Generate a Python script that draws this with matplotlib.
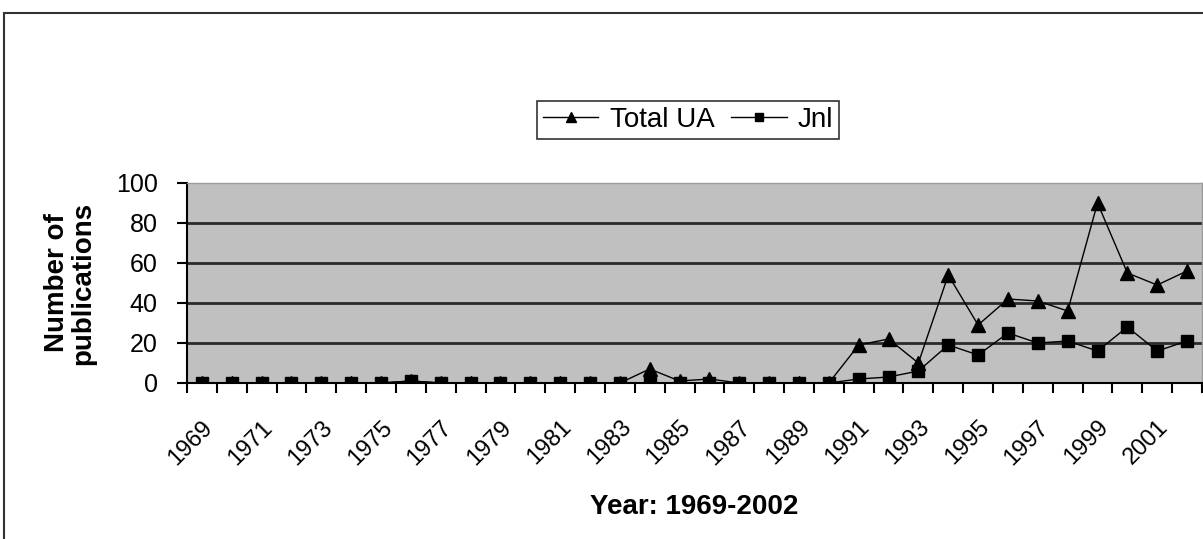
import numpy as np
import matplotlib
matplotlib.use("Agg")
import matplotlib.pyplot as plt
import matplotlib.transforms as mtransforms
from matplotlib.patches import Rectangle

plt.rcParams['font.family'] = ['Liberation Sans', 'DejaVu Sans']

# data
years = list(range(1969, 2003))
total_ua = [0, 0, 0, 0, 0, 0, 0, 1, 0, 0, 0, 0, 0, 0, 0, 7, 1, 2, 0, 0, 0, 0,
            19, 22, 10, 54, 29, 42, 41, 36, 90, 55, 49, 56]
jnl = [0, 0, 0, 0, 0, 0, 0, 1, 0, 0, 0, 0, 0, 0, 0, 0, 0, 0, 0, 0, 0, 0,
       2, 3, 6, 19, 14, 25, 20, 21, 16, 28, 16, 21]
tick_years = [str(y) for y in years[::2]]

W, H = 1203, 539
fig = plt.figure(figsize=(W / 100, H / 100), dpi=100)

# outer chart frame (runs off the right / bottom edge)
fig.patches.append(Rectangle((4 / W, -0.1), 1.2, 1.1 - 13 / H, transform=fig.transFigure,
                             fill=False, edgecolor='#333333', linewidth=1.5))

ax = fig.add_axes([187 / W, (H - 383) / H, (1202 - 187) / W, 200 / H])
ax.set_facecolor('#c0c0c0')

x = np.arange(len(years)) + 0.5
ax.plot(x, total_ua, color='black', lw=1, marker='^', ms=10, label='Total UA', zorder=3)
ax.plot(x, jnl, color='black', lw=1, marker='s', ms=9, label='Jnl', zorder=3)

ax.set_xlim(0, len(years))
ax.set_ylim(0, 100)
ax.set_yticks([0, 20, 40, 60, 80, 100])
for v in [20, 40, 60, 80]:
    ax.axhline(v, color='#2a2a2a', lw=2, zorder=1)

ax.set_xticks(x[::2])
ax.set_xticklabels(tick_years, rotation=45, ha='right', va='top', rotation_mode='anchor', fontsize=17)
shift = mtransforms.ScaledTranslation(-17 / 100, 0, fig.dpi_scale_trans)
for lab in ax.get_xticklabels():
    lab.set_transform(lab.get_transform() + shift)
ax.set_xticks(np.arange(len(years) + 1), minor=True)
ax.tick_params(axis='x', which='major', length=0, pad=24)
ax.tick_params(axis='x', which='minor', length=7, width=1.5, direction='out')
ax.tick_params(axis='y', length=7, width=1.5, labelsize=18, pad=14)

for s in ['left', 'bottom']:
    ax.spines[s].set_color('black')
    ax.spines[s].set_linewidth(1.5)
for s in ['top', 'right']:
    ax.spines[s].set_color('#9a9a9a')
    ax.spines[s].set_linewidth(1)

fig.text(70 / W, 1 - 283 / H, 'Number of\npublications', rotation=90, ha='center', va='center',
         fontsize=20, fontweight='bold', linespacing=1.05)
fig.text(694 / W, 1 - 507 / H, 'Year: 1969-2002', ha='center', va='center',
         fontsize=20, fontweight='bold')

leg = fig.legend(loc='center', bbox_to_anchor=(688 / W, 1 - 120 / H), ncol=2, fontsize=20,
                 frameon=True, fancybox=False, edgecolor='black', handlelength=2.0,
                 columnspacing=0.6, handletextpad=0.4, borderpad=0.2, markerscale=0.7)
leg.get_frame().set_linewidth(1.2)

fig.savefig('out.png', dpi=100)
